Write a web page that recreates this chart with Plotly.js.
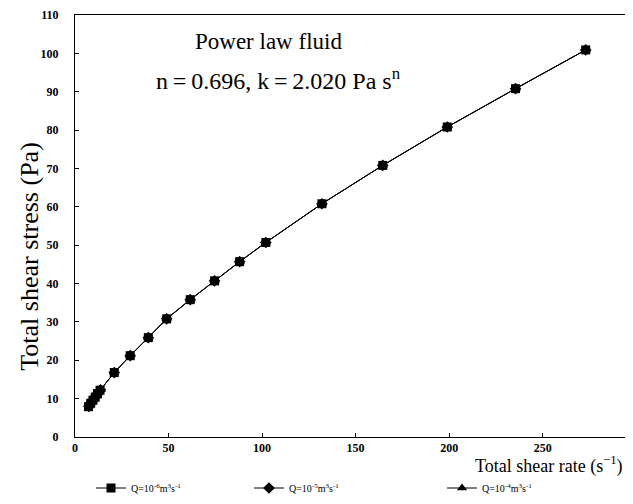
<!DOCTYPE html>
<html>
<head>
<meta charset="utf-8">
<script src="https://cdn.plot.ly/plotly-3.0.1.min.js"></script>
<style>html,body{margin:0;padding:0;background:#fff;}#chart{width:633px;height:504px;}</style>
</head>
<body>
<div id="chart"></div>
<script>
// Total shear rate (s^-1) and total shear stress (Pa)
var rateQ6 = [7.2, 8.4, 9.6, 10.8, 12.0, 13.4, 21.0, 29.5, 39.2, 49.0, 61.6, 74.6, 88.0, 102.0, 132.0, 164.5, 199.0, 235.5, 273.0];
var stressQ6 = [7.9, 8.8, 9.6, 10.4, 11.3, 12.2, 16.8, 21.2, 25.9, 30.8, 35.8, 40.7, 45.7, 50.7, 60.8, 70.8, 80.8, 90.8, 100.9];
var rateQ5 = [7.4, 8.6, 9.8, 11.0, 12.2, 13.6, 21.0, 29.5, 39.2, 49.0, 61.6, 74.6, 88.0, 102.0, 132.0, 164.5, 199.0, 235.5, 273.0];
var stressQ5 = [8.0, 8.9, 9.7, 10.5, 11.4, 12.3, 16.8, 21.2, 25.9, 30.8, 35.8, 40.7, 45.7, 50.7, 60.8, 70.8, 80.8, 90.8, 100.9];
var rateQ4 = [7.6, 8.8, 10.0, 11.2, 12.4, 13.8, 21.0, 29.5, 39.2, 49.0, 61.6, 74.6, 88.0, 102.0, 132.0, 164.5, 199.0, 235.5, 273.0];
var stressQ4 = [8.1, 9.0, 9.8, 10.6, 11.5, 12.4, 16.8, 21.2, 25.9, 30.8, 35.8, 40.7, 45.7, 50.7, 60.8, 70.8, 80.8, 90.8, 100.9];
var seriesNames = ['Q=10<sup>-6</sup>m<sup>3</sup>s<sup>-1</sup>', 'Q=10<sup>-5</sup>m<sup>3</sup>s<sup>-1</sup>', 'Q=10<sup>-4</sup>m<sup>3</sup>s<sup>-1</sup>'];
var xTicks = [0, 50, 100, 150, 200, 250];
var yTicks = [0, 10, 20, 30, 40, 50, 60, 70, 80, 90, 100, 110];

var serif = '"Liberation Serif", "Times New Roman", "DejaVu Serif", serif';
function mk(x, y, name, sym, leg) {
  return {
    x: x, y: y, name: name, type: 'scatter', mode: 'lines+markers',
    line: {color: '#000', width: 1},
    marker: {symbol: sym, size: 9, color: '#000'},
    legend: leg
  };
}
var data = [
  mk(rateQ6, stressQ6, seriesNames[0], 'square', 'legend'),
  mk(rateQ5, stressQ5, seriesNames[1], 'diamond', 'legend2'),
  mk(rateQ4, stressQ4, seriesNames[2], 'triangle-up', 'legend3')
];
function leg(xpx) {
  return {x: xpx / 633, xref: 'container', y: 1 - 488 / 504, yref: 'container',
    xanchor: 'left', yanchor: 'middle', bgcolor: 'rgba(0,0,0,0)',
    font: {family: serif, size: 10, color: '#000'}, itemwidth: 30, tracegroupgap: 0};
}
function bold(v) { return '<b>' + v + '</b>'; }
var layout = {
  width: 633, height: 504,
  margin: {l: 75, r: 8, t: 15, b: 67, autoexpand: false},
  paper_bgcolor: '#fff', plot_bgcolor: '#fff',
  font: {family: serif, color: '#000'},
  showlegend: true,
  legend: leg(91), legend2: leg(249), legend3: leg(442),
  xaxis: {
    range: [0, 294], tickvals: xTicks, ticktext: xTicks.map(bold),
    ticks: 'inside', ticklen: 4, tickcolor: '#000', tickwidth: 1,
    showline: true, linecolor: '#000', linewidth: 1, mirror: true,
    showgrid: false, zeroline: false, automargin: false,
    tickfont: {family: serif, size: 12, color: '#000'}
  },
  yaxis: {
    range: [0, 110], tickvals: yTicks, ticktext: yTicks.map(bold),
    ticks: 'inside', ticklen: 4, tickcolor: '#000', tickwidth: 1,
    showline: true, linecolor: '#000', linewidth: 1, automargin: false,
    showgrid: false, zeroline: false, ticklabelstandoff: 13,
    tickfont: {family: serif, size: 12, color: '#000'}
  },
  annotations: [
    {text: 'Total shear stress (Pa)', xref: 'paper', yref: 'paper', x: (30 - 75) / 550, y: (437.5 - 257) / 422.5,
     xanchor: 'center', yanchor: 'middle', textangle: -90, showarrow: false, font: {family: serif, size: 26, color: '#000'}},
    {text: 'Power law fluid', xref: 'paper', yref: 'paper', x: (268 - 75) / 550, y: (437.5 - 42) / 422.5,
     xanchor: 'center', yanchor: 'middle', showarrow: false, font: {family: serif, size: 23, color: '#000'}},
    {text: 'n\u2009=\u20090.696, k\u2009=\u20092.020 Pa s<sup>n</sup>', xref: 'paper', yref: 'paper', x: (278 - 75) / 550, y: (437.5 - 79) / 422.5,
     xanchor: 'center', yanchor: 'middle', showarrow: false, font: {family: serif, size: 24, color: '#000'}},
    {text: 'Total shear rate (s<sup>\u22121</sup>)', xref: 'paper', yref: 'paper', x: 1, y: (437.5 - 466) / 422.5,
     xanchor: 'right', yanchor: 'middle', showarrow: false, font: {family: serif, size: 18, color: '#000'}}
  ]
};
Plotly.newPlot('chart', data, layout, {displayModeBar: false, staticPlot: true});
</script>
</body>
</html>
